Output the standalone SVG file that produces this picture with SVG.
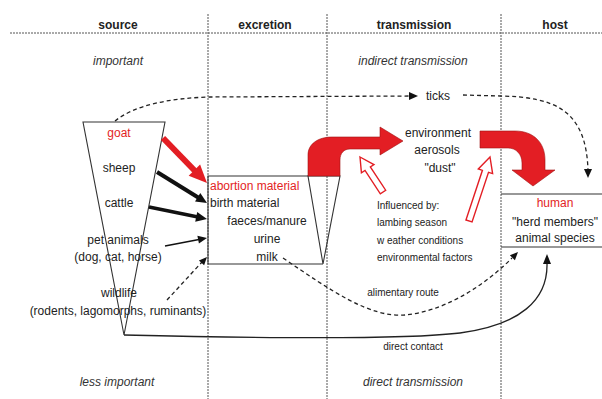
<svg xmlns="http://www.w3.org/2000/svg" width="602" height="399" viewBox="0 0 602 399">
<style>
text{font-family:"Liberation Sans",Arial,sans-serif;font-size:12px;fill:#222}
.h{font-weight:bold;text-anchor:middle}
.i{font-style:italic;text-anchor:middle;fill:#333}
.c{text-anchor:middle}
.r{fill:#e31e24}
.s{font-size:10px}
.sep{stroke:#555;stroke-width:1;stroke-dasharray:2,1;fill:none}
.shape{stroke:#333;stroke-width:1.1;fill:none}
.dash{stroke:#222;stroke-width:1.3;stroke-dasharray:4,3;fill:none}
.solid{stroke:#222;fill:none}
.hd{fill:#111}
.bigred{fill:#e31e24;stroke:#a01010;stroke-width:0.6}
.hollow{fill:#fff;stroke:#e31e24;stroke-width:1.4}
</style>
<rect width="602" height="399" fill="#fff"/>
<g id="grid">
<line class="sep" x1="10" y1="33" x2="602" y2="33"/>
<line class="sep" x1="208" y1="14" x2="208" y2="399"/>
<line class="sep" x1="327" y1="14" x2="327" y2="399"/>
<line class="sep" x1="501" y1="14" x2="501" y2="399"/>
<text class="h" x="118" y="29">source</text>
<text class="h" x="265" y="29">excretion</text>
<text class="h" x="414" y="29">transmission</text>
<text class="h" x="555" y="29">host</text>
<text class="i" x="118" y="65">important</text>
<text class="i" x="413" y="65">indirect transmission</text>
<text class="i" x="117" y="386">less important</text>
<text class="i" x="413" y="386">direct transmission</text>
</g>
<g id="source">
<polygon class="shape" points="83,122 165,122 124,335"/>
<text class="c r" x="119" y="137">goat</text>
<text class="c" x="119" y="172">sheep</text>
<text class="c" x="119" y="207">cattle</text>
<text class="c" x="118" y="244">pet animals</text>
<text class="c" x="118" y="261">(dog, cat, horse)</text>
<text class="c" x="119" y="297">wildlife</text>
<text class="c" x="118" y="315">(rodents, lagomorphs, ruminants)</text>
</g>
<g id="excretion">
<polyline class="shape" points="308,176 208,176 208,264 323,264"/>
<polygon class="shape" points="308,176 340,176 323,264"/>
<text class="r" x="210" y="190">abortion material</text>
<text x="210" y="207">birth material</text>
<text class="c" x="267" y="225">faeces/manure</text>
<text class="c" x="267" y="243">urine</text>
<text class="c" x="267" y="261">milk</text>
</g>
<g id="environment">
<text class="c" x="438" y="137">environment</text>
<text class="c" x="437" y="154">aerosols</text>
<text class="c" x="440" y="172">"dust"</text>
</g>
<g id="influences">
<text class="s" x="377" y="209">Influenced by:</text>
<text class="s" x="377" y="226">lambing season</text>
<text class="s" x="377" y="244">w eather conditions</text>
<text class="s" x="377" y="261">environmental factors</text>
</g>
<g id="ticks">
<text x="426" y="100">ticks</text>
</g>
<g id="host">
<line class="shape" x1="501" y1="194" x2="602" y2="194"/>
<line class="shape" x1="501" y1="247" x2="602" y2="247"/>
<text class="c r" x="555" y="207">human</text>
<text class="c" x="555" y="226">"herd members"</text>
<text class="c" x="555" y="242">animal species</text>
</g>
<g id="connectors">
<!-- goat -> excretion (red) -->
<line x1="163" y1="138" x2="196" y2="172" stroke="#e31e24" stroke-width="6"/>
<polygon fill="#e31e24" points="207,183 188.7,175.7 200.1,164.5"/>
<!-- sheep -->
<line x1="157" y1="172" x2="199" y2="198" stroke="#111" stroke-width="4"/>
<polygon class="hd" points="207,203 195,201.5 200.3,193"/>
<!-- cattle -->
<line x1="149" y1="207" x2="198" y2="217" stroke="#111" stroke-width="3.5"/>
<polygon class="hd" points="207,219 195.2,221.7 197.2,211.9"/>
<!-- pet -->
<line x1="165" y1="246" x2="199" y2="239.5" stroke="#111" stroke-width="1.5"/>
<polygon class="hd" points="207,238 198.9,243.6 197.4,235.8"/>
<!-- wildlife -->
<path class="dash" d="M167,300 L202,262"/>
<polygon class="hd" points="207,257 204.1,265.3 198.9,260.5"/>
<!-- goat -> ticks -->
<path class="dash" d="M115,121 C135,105 170,98 210,97 L410,96"/>
<polygon class="hd" points="418,96 409,92 409,100"/>
<!-- ticks -> host -->
<path class="dash" d="M463,95 L500,96 C555,97 586,110 588,170"/>
<polygon class="hd" points="588,178 584,169 592,169"/>
<!-- alimentary route -->
<path class="dash" d="M283,258 C330,290 370,318 405,315 C440,312 480,290 512,258"/>
<polygon class="hd" points="518,252 514.9,260.2 509.9,255.3"/>
<text class="c s" x="403" y="296">alimentary route</text>
<!-- direct contact -->
<path class="solid" stroke-width="1.3" d="M124,335 C250,338 400,340 460,333 C520,325 548,300 547,263"/>
<polygon class="hd" points="547,254 543,264 551,264"/>
<text class="c s" x="413" y="350">direct contact</text>
<!-- big red arrows -->
<path class="bigred" d="M308,176 L308,155 C308,144 318,137 332,137 L380,137 L380,127 L403,141 L380,155 L380,149 L350,149 C344,149 340,153 340,160 L340,176 Z"/>
<path class="bigred" d="M480,131 L515,131 C534,131 545,143 545,160 L545,170 L555,170 L533,186 L512,170 L522,170 L522,163 C522,154 516,148 508,148 L480,148 Z"/>
<!-- hollow influence arrows -->
<polygon class="hollow" points="360,157 373.95,164.57 370.36,166.93 385.67,190.24 380.33,193.76 365.02,170.45 361.43,172.81"/>
<polygon class="hollow" points="490,157 492.61,173.57 488.51,172.27 472.05,221.97 465.95,220.03 482.41,170.33 478.31,169.03"/>
</g>
</svg>
